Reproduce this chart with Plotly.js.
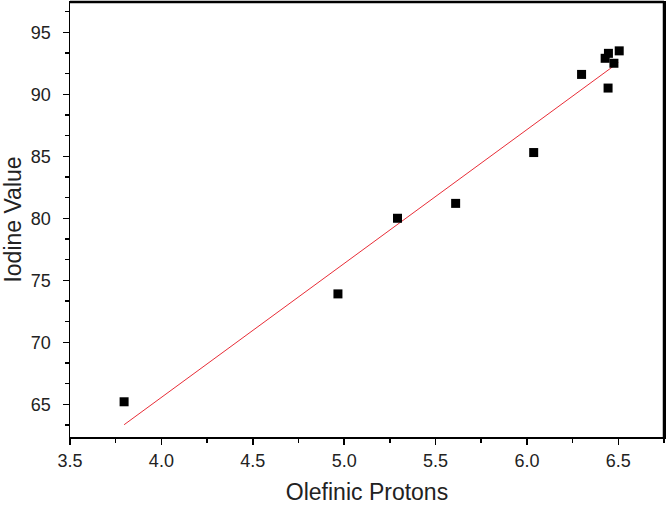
<!DOCTYPE html>
<html>
<head>
<meta charset="utf-8">
<script src="https://cdn.plot.ly/plotly-3.0.1.min.js"></script>
<style>html,body{margin:0;padding:0;background:#fff;}#chart{width:666px;height:505px;}</style>
</head>
<body>
<div id="chart"></div>
<script>
const olefinicProtons = [3.796, 4.966, 5.292, 5.610, 6.037, 6.299, 6.428, 6.444, 6.446, 6.476, 6.505];
const iodineValue     = [65.2, 73.9, 80.0, 81.2, 85.3, 91.6, 92.9, 90.5, 93.3, 92.5, 93.5];
const fitX = [3.796, 6.500];
const fitY = [63.35, 92.55];

const font = 'Liberation Sans, Arial, sans-serif';
const data = [
  {x: fitX, y: fitY, type: 'scatter', mode: 'lines',
   line: {color: 'rgb(232,45,55)', width: 1}, hoverinfo: 'skip'},
  {x: olefinicProtons, y: iodineValue, type: 'scatter', mode: 'markers',
   marker: {symbol: 'square', size: 9, color: '#000'}}
];
const layout = {
  width: 666, height: 505,
  margin: {l: 70, r: 2, t: 2, b: 68},
  showlegend: false,
  paper_bgcolor: '#fff', plot_bgcolor: '#fff',
  font: {family: font, color: '#222'},
  shapes: [
    {type: 'line', xref: 'paper', yref: 'paper', x0: 0, x1: 1, y0: 1, y1: 1, line: {color: '#000', width: 2.5}},
    {type: 'line', xref: 'paper', yref: 'paper', x0: 1, x1: 1, y0: 0, y1: 1, line: {color: '#000', width: 2.5}}
  ],
  xaxis: {
    range: [3.5, 6.75], tick0: 3.5, dtick: 0.5, tickformat: '.1f',
    showgrid: false, zeroline: false,
    showline: true, linecolor: '#000', linewidth: 1.5, mirror: true,
    ticks: 'outside', ticklen: 6, tickwidth: 1.5, tickcolor: '#000',
    ticklabelstandoff: 1,
    minor: {dtick: 0.25, tick0: 3.5, ticks: 'outside', ticklen: 4, tickwidth: 1.5, tickcolor: '#000', showgrid: false},
    tickfont: {size: 18, family: font, color: '#222'},
    title: {text: 'Olefinic Protons', font: {size: 23, family: font, color: '#222'}},
    automargin: false
  },
  yaxis: {
    range: [62.36, 97.44], tick0: 65, dtick: 5,
    showgrid: false, zeroline: false,
    showline: true, linecolor: '#000', linewidth: 1.5, mirror: true,
    ticks: 'outside', ticklen: 6, tickwidth: 1.5, tickcolor: '#000',
    ticklabelstandoff: 8,
    minor: {dtick: 5/3, tick0: 65, ticks: 'outside', ticklen: 4, tickwidth: 1.5, tickcolor: '#000', showgrid: false},
    tickfont: {size: 18, family: font, color: '#222'},
    title: {text: 'Iodine Value', font: {size: 23, family: font, color: '#222'}},
    automargin: false
  }
};
Plotly.newPlot('chart', data, layout, {displayModeBar: false, staticPlot: true});
</script>
</body>
</html>
